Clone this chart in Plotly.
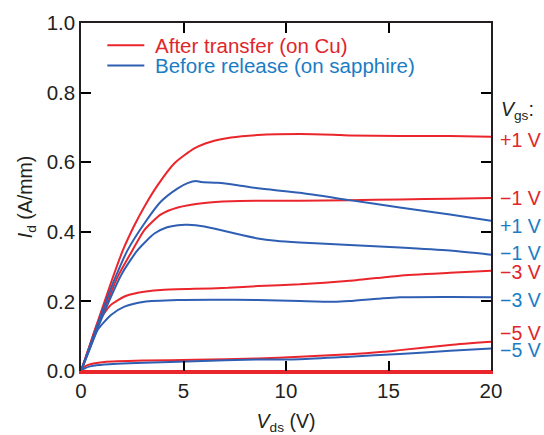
import plotly.graph_objects as go

# ---- data ----
x_red_p1 = [0, 0.5, 1, 1.5, 2.03, 2.6, 3.09, 3.74, 4.56, 5.53, 6.34, 7.32, 8.62, 10.67, 12.3, 13.1, 15.55, 18, 20]
y_red_p1 = [0, 0.087, 0.174, 0.26, 0.345, 0.418, 0.472, 0.534, 0.597, 0.640, 0.659, 0.671, 0.678, 0.681, 0.679, 0.677, 0.675, 0.675, 0.673]

x_red_m1 = [0, 1, 1.8, 2.52, 3.09, 3.9, 4.72, 6.02, 7.33, 8.62, 10.67, 13.1, 15.55, 18, 20]
y_red_m1 = [0, 0.157, 0.272, 0.348, 0.405, 0.450, 0.470, 0.483, 0.488, 0.489, 0.489, 0.491, 0.493, 0.495, 0.497]

x_red_m3 = [0, 0.4, 0.81, 1.46, 2.12, 2.77, 3.9, 5.53, 7.16, 8.62, 10.67, 13.1, 14.73, 15.55, 18, 20]
y_red_m3 = [0, 0.068, 0.137, 0.190, 0.214, 0.225, 0.233, 0.236, 0.239, 0.244, 0.249, 0.259, 0.269, 0.274, 0.282, 0.288]

x_red_m5 = [0, 0.16, 0.49, 1.14, 3.09, 5.53, 8.62, 10.67, 13.1, 14.73, 15.55, 18, 20]
y_red_m5 = [0, 0.012, 0.020, 0.026, 0.030, 0.032, 0.036, 0.041, 0.048, 0.055, 0.060, 0.075, 0.084]

x_red_off = [0, 20]
y_red_off = [0, 0]

x_blue_p1 = [0, 1, 1.6, 2.28, 3.09, 3.9, 4.72, 5.2, 5.61, 5.85, 6.67, 7.64, 8.62, 10.67, 13.1, 15.55, 18, 20]
y_blue_p1 = [0, 0.165, 0.258, 0.348, 0.424, 0.487, 0.525, 0.540, 0.546, 0.543, 0.541, 0.534, 0.525, 0.512, 0.491, 0.470, 0.450, 0.432]

x_blue_m1 = [0, 1, 2, 2.77, 3.58, 4.2, 4.72, 5.2, 6.02, 7.16, 8.62, 9.5, 10.67, 13.1, 15.55, 18, 20]
y_blue_m1 = [0, 0.15, 0.28, 0.348, 0.395, 0.413, 0.419, 0.420, 0.415, 0.400, 0.381, 0.374, 0.369, 0.362, 0.355, 0.346, 0.334]

x_blue_m3 = [0, 0.4, 0.81, 1.46, 2.12, 3.09, 4.72, 6.34, 8.62, 10.67, 12.29, 13.1, 14.73, 15.55, 18, 20]
y_blue_m3 = [0, 0.059, 0.118, 0.161, 0.185, 0.199, 0.204, 0.205, 0.204, 0.201, 0.199, 0.201, 0.209, 0.212, 0.213, 0.212]

x_blue_m5 = [0, 0.16, 0.49, 1.14, 3.09, 5.53, 8.62, 10.67, 13.1, 15.55, 18, 20]
y_blue_m5 = [0, 0.007, 0.014, 0.019, 0.024, 0.028, 0.033, 0.034, 0.041, 0.049, 0.058, 0.065]

series_names = ["After transfer (on Cu)", "Before release (on sapphire)"]

# right-hand Vgs labels: text, series index, label y position
label_texts = ["+1 V", "\u22121 V", "+1 V", "\u22121 V", "\u22123 V", "\u22123 V", "\u22125 V", "\u22125 V"]
label_series = [0, 0, 1, 1, 0, 1, 0, 1]
label_y = [0.664, 0.497, 0.417, 0.338, 0.285, 0.203, 0.109, 0.060]

# ---- styles ----
RED = "#ea262c"
BLUE = "#2f5fb3"
RED_TXT = "#e0262c"
BLUE_TXT = "#1a7dc4"
BLACK = "#231f20"
FONT = "Liberation Sans, Arial, sans-serif"

fig = go.Figure()

red_curves = [(x_red_p1, y_red_p1), (x_red_m1, y_red_m1), (x_red_m3, y_red_m3),
              (x_red_m5, y_red_m5), (x_red_off, y_red_off)]
blue_curves = [(x_blue_p1, y_blue_p1), (x_blue_m1, y_blue_m1),
               (x_blue_m3, y_blue_m3), (x_blue_m5, y_blue_m5)]

for i, (xx, yy) in enumerate(red_curves):
    fig.add_trace(go.Scatter(
        x=xx, y=yy, mode="lines",
        xaxis="x2" if i == len(red_curves) - 1 else "x",
        line=dict(color=RED, width=2, shape="spline", smoothing=0.6),
        name=f"<span style='color:{RED_TXT}'>\u00a0{series_names[0]}</span>",
        legend="legend", legendgroup="red", showlegend=(i == 0),
        hoverinfo="skip"))

for i, (xx, yy) in enumerate(blue_curves):
    fig.add_trace(go.Scatter(
        x=xx, y=yy, mode="lines",
        line=dict(color=BLUE, width=2, shape="spline", smoothing=0.6),
        name=f"<span style='color:{BLUE_TXT}'>\u00a0{series_names[1]}</span>",
        legend="legend2", legendgroup="blue", showlegend=(i == 0),
        hoverinfo="skip"))

annotations = [dict(
    x=20, y=0.75, xref="x", yref="y", xanchor="left", yanchor="middle",
    xshift=8, showarrow=False, text="<i>V</i><sub>gs</sub>:",
    font=dict(family=FONT, size=19.5, color=BLACK))]
for t, s, yy in zip(label_texts, label_series, label_y):
    annotations.append(dict(
        x=20, y=yy, xref="x", yref="y", xanchor="left", yanchor="middle",
        xshift=7, showarrow=False, text=t,
        font=dict(family=FONT, size=19.5, color=RED_TXT if s == 0 else BLUE_TXT)))

axis_common = dict(
    showline=True, linewidth=1.5, linecolor=BLACK,
    ticks="inside", ticklen=10, tickwidth=2, tickcolor="black",
    showgrid=False, zeroline=False, automargin=False,
    tickfont=dict(family=FONT, size=20.5, color=BLACK),
)

legend_common = dict(xanchor="left", yanchor="top", bgcolor="rgba(0,0,0,0)",
                     borderwidth=0, font=dict(family=FONT, size=20.5),
                     itemwidth=37)

fig.update_layout(
    width=544, height=435, autosize=False,
    margin=dict(l=81, r=53, t=23, b=64),
    plot_bgcolor="white", paper_bgcolor="white",
    font=dict(family=FONT, size=19.5, color=BLACK),
    xaxis=dict(range=[0, 20], dtick=5,
               title=dict(text="<i>V</i><sub>ds</sub> (V)", standoff=15,
                          font=dict(family=FONT, size=19.5, color=BLACK)),
               **{**axis_common, "linecolor": RED, "linewidth": 2.5}),
    xaxis2=dict(range=[0, 20], dtick=5, overlaying="x", matches="x", side="top",
                anchor="y", showticklabels=False, **axis_common),
    yaxis=dict(range=[0, 1.0], tickvals=[0, 0.2, 0.4, 0.6, 0.8, 1.0],
               tickformat=".1f", mirror="ticks",
               title=dict(text="<i>I</i><sub>d</sub> (A/mm)", standoff=9,
                          font=dict(family=FONT, size=19.5, color=BLACK)),
               **axis_common),
    legend=dict(x=0.052, y=0.993, **legend_common),
    legend2=dict(x=0.052, y=0.935, **legend_common),
    annotations=annotations,
)

fig.write_html("out.html", config={"displayModeBar": False},
               post_script="document.body.style.margin='0';")
